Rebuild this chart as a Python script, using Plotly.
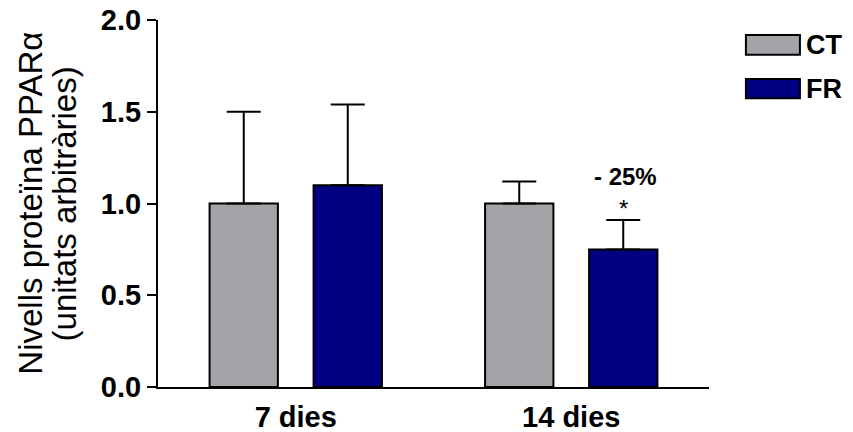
import plotly.graph_objects as go

# Data
categories = ["7 dies", "14 dies"]
series_names = ["CT", "FR"]
ct_values = [1.00, 1.00]
ct_errors = [0.50, 0.12]
fr_values = [1.10, 0.75]
fr_errors = [0.44, 0.16]
y_ticks = [0.0, 0.5, 1.0, 1.5, 2.0]
y_ticklabels = ["0.0", "0.5", "1.0", "1.5", "2.0"]
change_label = "- 25%"
signif_label = "*"

colors = {"CT": "#A4A4A8", "FR": "#000080"}
FONT = "Liberation Sans, Arial, sans-serif"

fig = go.Figure()
for name, vals, errs in [("CT", ct_values, ct_errors), ("FR", fr_values, fr_errors)]:
    fig.add_trace(go.Bar(
        x=categories, y=vals, name=name,
        marker=dict(color=colors[name], line=dict(color="black", width=2)),
        error_y=dict(type="data", symmetric=False, array=errs,
                     arrayminus=[0] * len(errs),
                     color="black", thickness=2, width=17),
        showlegend=False,
    ))

# Significance marks above the FR bar at 14 days
fr_top = fr_values[1] + fr_errors[1]
fig.add_annotation(x=categories[1], y=fr_top, text=signif_label, showarrow=False,
                   xshift=52, yshift=12, yanchor="middle",
                   font=dict(family=FONT, size=24, color="black"))
fig.add_annotation(x=categories[1], y=fr_top, text=f"<b>{change_label}</b>", showarrow=False,
                   xshift=54, yshift=44, yanchor="middle",
                   font=dict(family=FONT, size=24, color="black"))

# Y-axis title, two lines
fig.add_annotation(xref="paper", yref="paper", x=-0.232, y=0.5, xanchor="center", yanchor="middle",
                   text="Nivells proteïna PPARα", textangle=-90, showarrow=False,
                   font=dict(family=FONT, size=33, color="black"))
fig.add_annotation(xref="paper", yref="paper", x=-0.169, y=0.5, xanchor="center", yanchor="middle",
                   text="(unitats arbitràries)", textangle=-90, showarrow=False,
                   font=dict(family=FONT, size=33, color="black"))

# Legend drawn as boxes with labels
legend_rows = [(0.959, 0.905), (0.839, 0.787)]
for name, (y1, y0) in zip(series_names, legend_rows):
    fig.add_shape(type="rect", xref="paper", yref="paper", x0=1.067, x1=1.165, y0=y0, y1=y1,
                  fillcolor=colors[name], line=dict(color="black", width=2))
    fig.add_annotation(xref="paper", yref="paper", x=1.172, y=(y0 + y1) / 2, xanchor="left",
                       yanchor="middle", text=f"<b>{name}</b>", showarrow=False,
                       font=dict(family=FONT, size=27, color="black"))

fig.update_layout(
    width=853, height=432,
    margin=dict(l=158, r=144, t=20, b=45, autoexpand=False),
    plot_bgcolor="white", paper_bgcolor="white",
    barmode="group", bargap=0.245, bargroupgap=0.343,
    font=dict(family=FONT, color="black"),
    xaxis=dict(range=[-0.5, 1.5], showline=True, linecolor="black", linewidth=2,
               ticks="", showgrid=False, zeroline=False, automargin=False,
               ticklabelstandoff=3,
               tickfont=dict(family=FONT, size=29, color="black", weight="bold")),
    yaxis=dict(range=[0, 2], tickvals=y_ticks, ticktext=y_ticklabels,
               showline=True, linecolor="black", linewidth=2,
               ticks="outside", ticklen=9, tickwidth=2, tickcolor="black",
               showgrid=False, zeroline=False, automargin=False,
               tickfont=dict(family=FONT, size=29, color="black", weight="bold")),
)

fig.write_html("out.html")
